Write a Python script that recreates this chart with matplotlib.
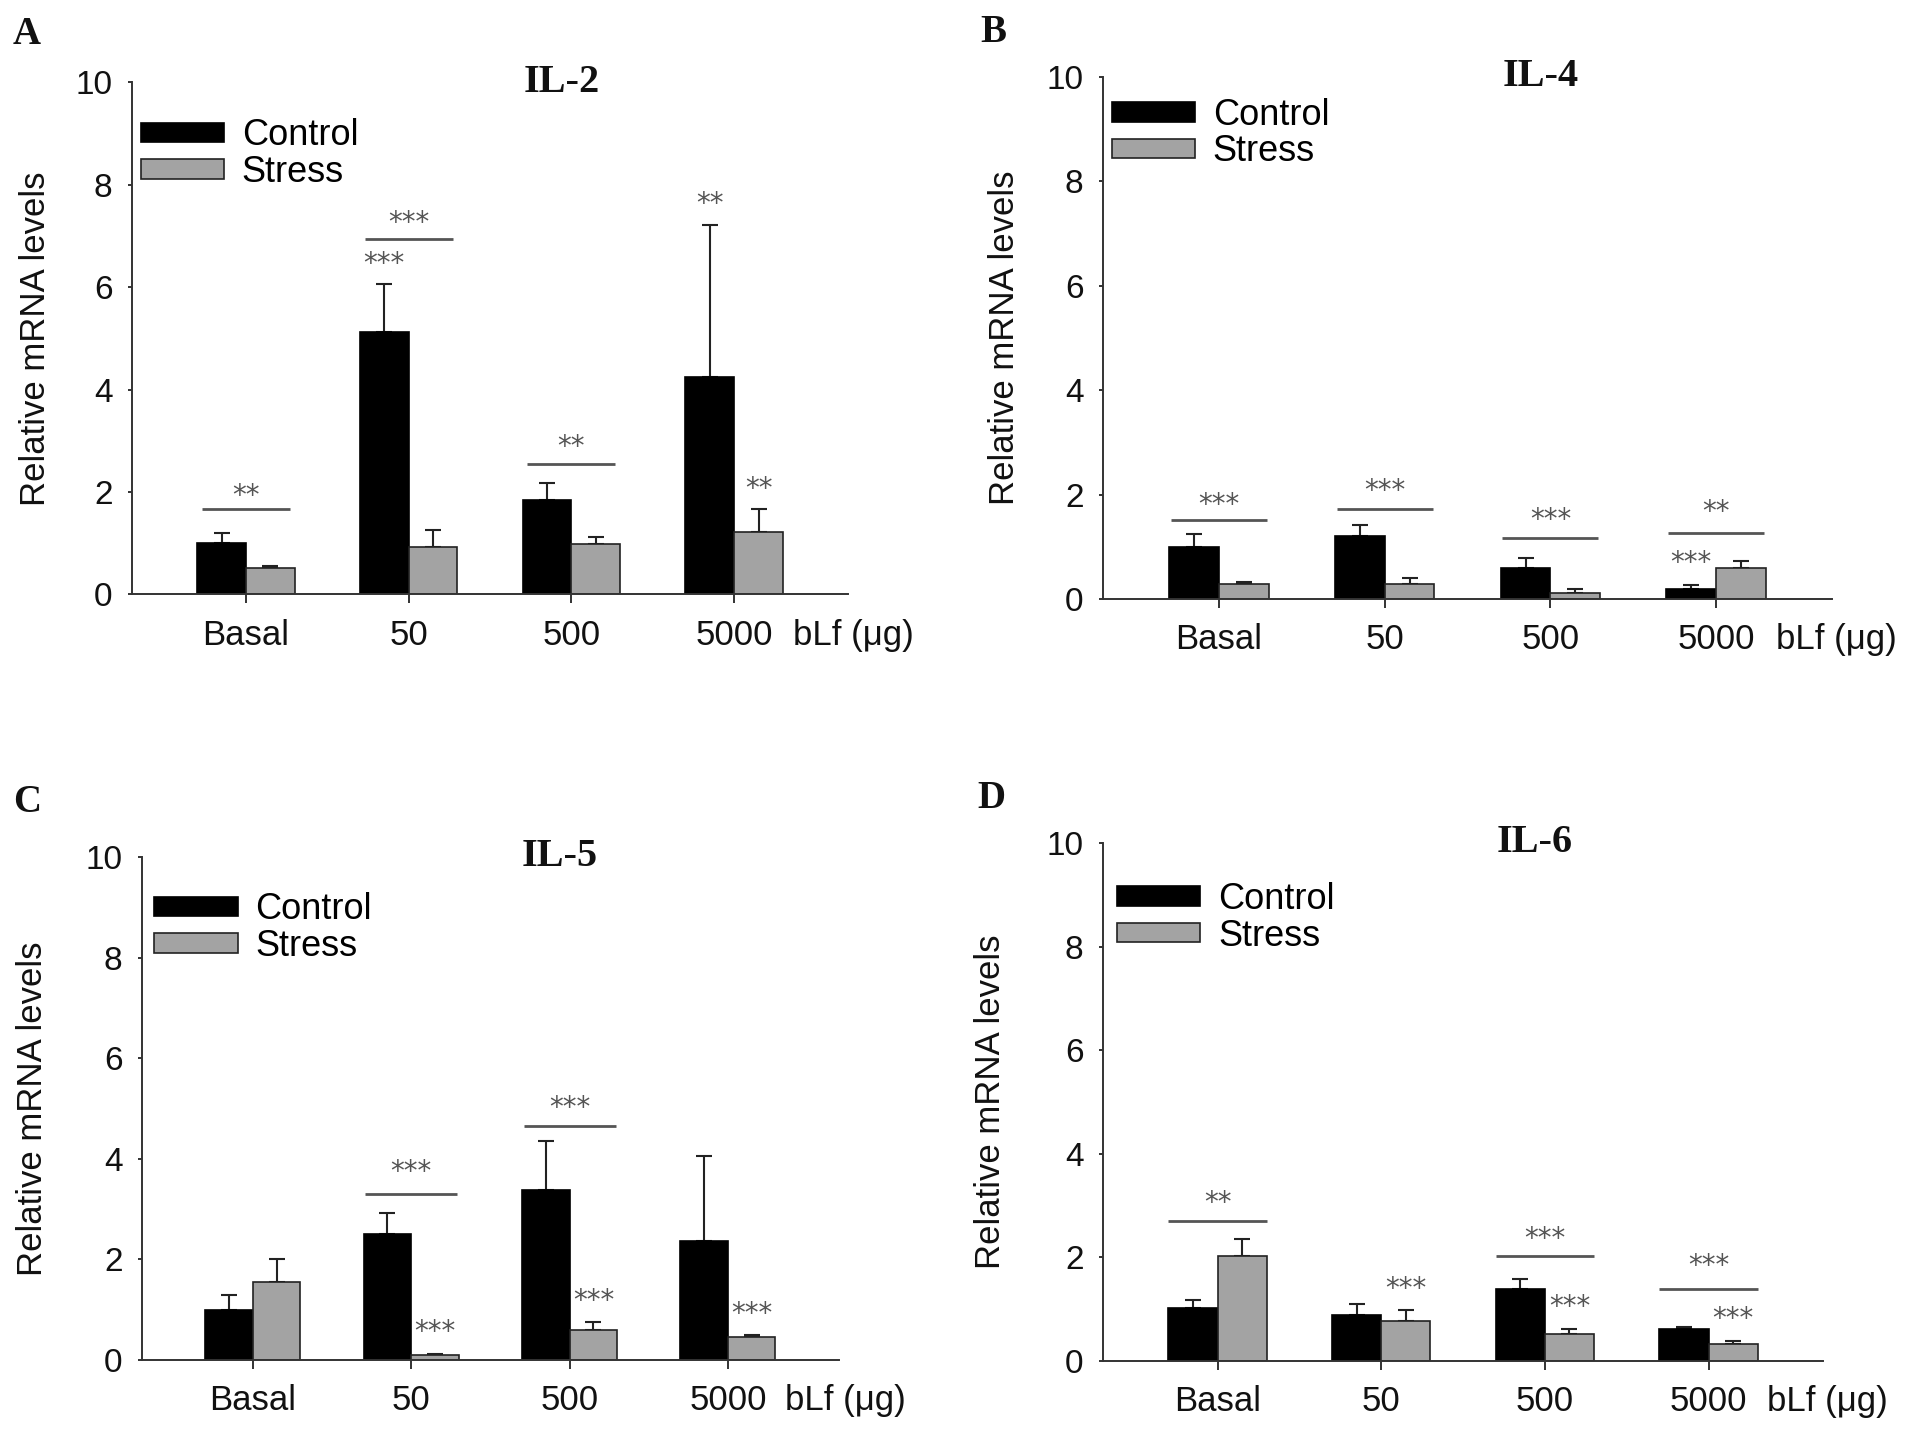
import matplotlib
matplotlib.use("Agg")
import matplotlib.pyplot as plt
import numpy as np

# ---------------- data ----------------
categories = ['Basal', '50', '500', '5000']
series_names = ['Control', 'Stress']

il2_control = [1.01, 5.12, 1.85, 4.24]
il2_control_err = [0.18, 0.95, 0.33, 2.97]
il2_stress = [0.52, 0.93, 0.98, 1.22]
il2_stress_err = [0.03, 0.32, 0.15, 0.44]

il4_control = [1.00, 1.21, 0.60, 0.19]
il4_control_err = [0.24, 0.21, 0.18, 0.07]
il4_stress = [0.28, 0.29, 0.11, 0.59]
il4_stress_err = [0.05, 0.11, 0.08, 0.14]

il5_control = [0.99, 2.50, 3.38, 2.37]
il5_control_err = [0.30, 0.42, 0.97, 1.68]
il5_stress = [1.55, 0.09, 0.60, 0.46]
il5_stress_err = [0.46, 0.03, 0.15, 0.03]

il6_control = [1.02, 0.88, 1.38, 0.62]
il6_control_err = [0.15, 0.22, 0.20, 0.03]
il6_stress = [2.02, 0.77, 0.52, 0.32]
il6_stress_err = [0.34, 0.22, 0.09, 0.07]

# significance brackets: (category index, line level, stars, star level)
il2_brackets = [(0, 1.67, '**', 1.92), (1, 6.94, '***', 7.25), (2, 2.54, '**', 2.88)]
il4_brackets = [(0, 1.51, '***', 1.80), (1, 1.73, '***', 2.06), (2, 1.17, '***', 1.51), (3, 1.27, '**', 1.66)]
il5_brackets = [(1, 3.30, '***', 3.74), (2, 4.66, '***', 5.00)]
il6_brackets = [(0, 2.71, '**', 3.04), (2, 2.02, '***', 2.36), (3, 1.39, '***', 1.83)]

# single-bar stars: (category index, series index 0=control 1=stress, level, stars)
il2_stars = [(1, 0, 6.45, '***'), (3, 0, 7.62, '**'), (3, 1, 2.05, '**')]
il4_stars = [(3, 0, 0.68, '***')]
il5_stars = [(1, 1, 0.55, '***'), (2, 1, 1.17, '***'), (3, 1, 0.92, '***')]
il6_stars = [(1, 1, 1.39, '***'), (2, 1, 1.05, '***'), (3, 1, 0.81, '***')]

titles = ['IL-2', 'IL-4', 'IL-5', 'IL-6']
panel_letters = ['A', 'B', 'C', 'D']
y_ticks = [0, 2, 4, 6, 8, 10]
x_unit_label = 'bLf (\u03bcg)'
y_label = 'Relative mRNA levels'

# ---------------- style ----------------
SANS = ['Liberation Sans', 'DejaVu Sans']
SERIF = ['Liberation Serif', 'DejaVu Serif']
plt.rcParams['font.family'] = SANS

fig = plt.figure(figsize=(19.13, 14.35), dpi=100)

panels = [
    dict(rect=[0.069, 0.5858, 0.3743, 0.3568], ylab_x=-0.112, leg=(0.012, 0.93), half=0.27,
         letter=(13, 34),
         c=il2_control, ce=il2_control_err, s=il2_stress, se=il2_stress_err,
         br=il2_brackets, st=il2_stars),
    dict(rect=[0.5766, 0.5826, 0.3811, 0.3639], ylab_x=-0.113, leg=(0.012, 0.96), half=0.29,
         letter=(980, 32),
         c=il4_control, ce=il4_control_err, s=il4_stress, se=il4_stress_err,
         br=il4_brackets, st=il4_stars),
    dict(rect=[0.0742, 0.0523, 0.3643, 0.3505], ylab_x=-0.134, leg=(0.018, 0.93), half=0.29,
         letter=(13, 802),
         c=il5_control, ce=il5_control_err, s=il5_stress, se=il5_stress_err,
         br=il5_brackets, st=il5_stars),
    dict(rect=[0.5766, 0.0516, 0.3764, 0.3610], ylab_x=-0.134, leg=(0.02, 0.925), half=0.30,
         letter=(977, 799),
         c=il6_control, ce=il6_control_err, s=il6_stress, se=il6_stress_err,
         br=il6_brackets, st=il6_stars),
]

control_color = '#000000'
stress_color = '#a3a3a3'
sig_color = '#555555'
bar_w = 0.3
x = np.arange(len(categories))

for i, p in enumerate(panels):
    ax = fig.add_axes(p['rect'])
    ax.set_facecolor('white')
    ax.bar(x - bar_w / 2, p['c'], bar_w, color=control_color, edgecolor='#000000',
           linewidth=1.2, label=series_names[0], zorder=2)
    ax.bar(x + bar_w / 2, p['s'], bar_w, color=stress_color, edgecolor='#222222',
           linewidth=1.2, label=series_names[1], zorder=2)
    ax.errorbar(x - bar_w / 2, p['c'], yerr=[np.zeros(len(x)), p['ce']], fmt='none',
                ecolor='#222222', elinewidth=1.5, capsize=6, capthick=1.5, zorder=1)
    ax.errorbar(x + bar_w / 2, p['s'], yerr=[np.zeros(len(x)), p['se']], fmt='none',
                ecolor='#222222', elinewidth=1.5, capsize=6, capthick=1.5, zorder=1)

    ax.set_xlim(-0.70, 3.70)
    ax.set_ylim(0, 10)
    ax.set_yticks(y_ticks)
    ax.set_yticklabels([str(t) for t in y_ticks])
    ax.set_xticks(x)
    ax.set_xticklabels(categories)
    for side in ('top', 'right'):
        ax.spines[side].set_visible(False)
    for side in ('left', 'bottom'):
        ax.spines[side].set_linewidth(1.4)
        ax.spines[side].set_color('#333333')
    ax.tick_params(axis='y', direction='out', length=3, width=1.2, pad=11,
                   labelsize=24, colors='#111111')
    ax.tick_params(axis='x', direction='out', length=6.5, width=1.2, pad=11,
                   labelsize=25, colors='#111111')
    ax.set_ylabel(y_label, fontsize=25, color='#111111')
    ax.yaxis.set_label_coords(p['ylab_x'], 0.5)

    ax.annotate(x_unit_label, xy=(3.36, 0), xycoords='data',
                xytext=(0, -17.5), textcoords='offset points',
                ha='left', va='top', fontsize=25, color='#111111', annotation_clip=False)

    ax.text(0.6, 1.0, titles[i], transform=ax.transAxes, ha='center', va='center',
            fontsize=29, fontweight='bold', family=SERIF, color='#111111')

    leg = ax.legend(loc='upper left', bbox_to_anchor=p['leg'], frameon=False,
                    fontsize=26, handlelength=2.3, handleheight=0.45,
                    handletextpad=0.5, labelspacing=0.05, borderpad=0,
                    borderaxespad=0)

    for (ci, yl, txt, ty) in p['br']:
        ax.plot([ci - p['half'], ci + p['half']], [yl, yl], color=sig_color,
                linewidth=2, solid_capstyle='butt')
        ax.text(ci, ty, txt, ha='center', va='center', fontsize=20,
                color=sig_color, family=['DejaVu Sans'])
    for (ci, si, ty, txt) in p['st']:
        xc = ci - bar_w / 2 if si == 0 else ci + bar_w / 2
        ax.text(xc, ty, txt, ha='center', va='center', fontsize=20,
                color=sig_color, family=['DejaVu Sans'])

    lx, ly = p['letter']
    fig.text(lx / 1913, 1 - ly / 1435, panel_letters[i], ha='left', va='center',
             fontsize=28, fontweight='bold', family=SERIF, color='#111111')

fig.savefig('out.png', dpi=100, facecolor='white')
